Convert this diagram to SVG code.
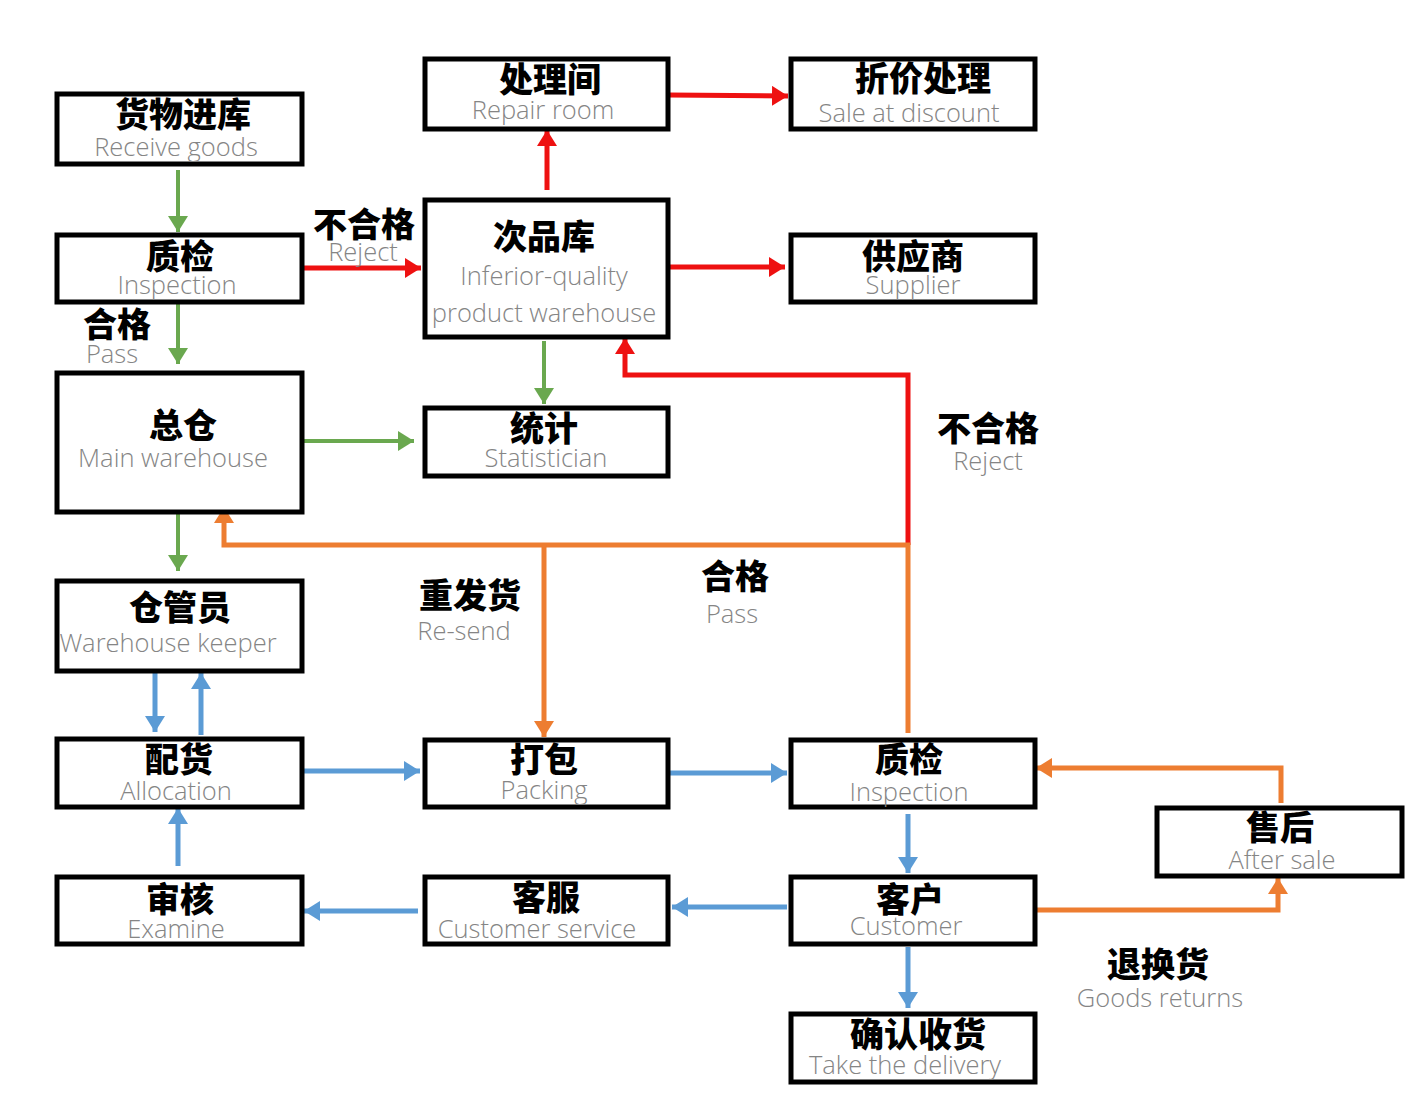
<svg xmlns="http://www.w3.org/2000/svg" width="1428" height="1111" viewBox="0 0 1428 1111">
<style>
.box{fill:#fff;stroke:#000;stroke-width:5}
.cn{font-family:"Noto Sans CJK SC","Noto Sans",sans-serif;font-weight:900;font-size:34px;fill:#000;text-anchor:middle}
.en{font-family:"Open Sans","Liberation Sans",sans-serif;font-weight:300;font-size:25.5px;fill:#858585;text-anchor:middle}
.g{stroke:#6aa84f;stroke-width:4;fill:none;marker-end:url(#ag)}
.r{stroke:#ee1111;stroke-width:5;fill:none;marker-end:url(#ar)}
.o{stroke:#ed7d31;stroke-width:5;fill:none;marker-end:url(#ao)}
.b{stroke:#5b9bd5;stroke-width:5;fill:none;marker-end:url(#ab)}
</style>
<defs>
<marker id="ag" markerUnits="userSpaceOnUse" markerWidth="17" markerHeight="20" refX="16" refY="10" orient="auto"><path d="M0,0 L16,10 L0,20 z" fill="#6aa84f"/></marker>
<marker id="ar" markerUnits="userSpaceOnUse" markerWidth="17" markerHeight="20" refX="16" refY="10" orient="auto"><path d="M0,0 L16,10 L0,20 z" fill="#ee1111"/></marker>
<marker id="ao" markerUnits="userSpaceOnUse" markerWidth="17" markerHeight="20" refX="16" refY="10" orient="auto"><path d="M0,0 L16,10 L0,20 z" fill="#ed7d31"/></marker>
<marker id="ab" markerUnits="userSpaceOnUse" markerWidth="17" markerHeight="20" refX="16" refY="10" orient="auto"><path d="M0,0 L16,10 L0,20 z" fill="#5b9bd5"/></marker>
</defs>
<rect width="1428" height="1111" fill="#fff"/>
<g id="connectors">
<path class="g" d="M178,170 L178,232"/>
<path class="g" d="M178,303 L178,364"/>
<path class="g" d="M298,441 L414,441"/>
<path class="g" d="M178,512 L178,571"/>
<path class="g" d="M544,341 L544,404"/>
<path class="r" d="M303,268 L421,268"/>
<path class="r" d="M547,190 L547,130"/>
<path class="r" d="M669,95 L788,96"/>
<path class="r" d="M669,267 L785,267"/>
<path class="r" d="M908,545 L908,375 L625,375 L625,338"/>
<path class="o" d="M908,733 L908,545 L224,545 L224,507"/>
<path class="o" d="M544,545 L544,737"/>
<path class="o" d="M1031,910 L1278,910 L1278,878"/>
<path class="o" d="M1281,803 L1281,768 L1036,768"/>
<path class="b" d="M155,672 L155,732"/>
<path class="b" d="M201,735 L201,673"/>
<path class="b" d="M178,866 L178,808"/>
<path class="b" d="M303,771 L420,771"/>
<path class="b" d="M669,773 L787,773"/>
<path class="b" d="M908,814 L908,873"/>
<path class="b" d="M787,907 L672,907"/>
<path class="b" d="M418,911 L304,911"/>
<path class="b" d="M908,947 L908,1008"/>
</g>
<g id="labels">
<text class="cn" x="364" y="237">不合格</text>
<text class="en" x="363" y="261">Reject</text>
<text class="cn" x="117" y="337">合格</text>
<text class="en" x="112" y="363">Pass</text>
<text class="cn" x="470" y="608">重发货</text>
<text class="en" x="464" y="640">Re-send</text>
<text class="cn" x="735" y="589">合格</text>
<text class="en" x="732" y="623">Pass</text>
<text class="cn" x="988" y="441">不合格</text>
<text class="en" x="988" y="470">Reject</text>
<text class="cn" x="1158" y="977">退换货</text>
<text class="en" x="1160" y="1007">Goods returns</text>
</g>
<g id="n-receive"><rect class="box" x="57" y="94" width="245" height="70"/><text class="cn" x="183" y="127">货物进库</text><text class="en" x="176" y="156">Receive goods</text></g>
<g id="n-inspect1"><rect class="box" x="57" y="235" width="245" height="67"/><text class="cn" x="180" y="269">质检</text><text class="en" x="177" y="294">Inspection</text></g>
<g id="n-main"><rect class="box" x="57" y="373" width="245" height="139"/><text class="cn" x="183" y="438">总仓</text><text class="en" x="173" y="467">Main warehouse</text></g>
<g id="n-keeper"><rect class="box" x="57" y="581" width="245" height="90"/><text class="cn" x="180" y="620">仓管员</text><text class="en" x="168" y="652">Warehouse keeper</text></g>
<g id="n-alloc"><rect class="box" x="57" y="739" width="245" height="68"/><text class="cn" x="179" y="772">配货</text><text class="en" x="176" y="800">Allocation</text></g>
<g id="n-examine"><rect class="box" x="57" y="877" width="245" height="67"/><text class="cn" x="180" y="912">审核</text><text class="en" x="176" y="938">Examine</text></g>
<g id="n-repair"><rect class="box" x="425" y="59" width="243" height="70"/><text class="cn" x="550" y="92">处理间</text><text class="en" x="543" y="119">Repair room</text></g>
<g id="n-discount"><rect class="box" x="791" y="59" width="244" height="70"/><text class="cn" x="923" y="91">折价处理</text><text class="en" x="909" y="122">Sale at discount</text></g>
<g id="n-inferior"><rect class="box" x="425" y="200" width="243" height="137"/><text class="cn" x="544" y="249">次品库</text><text class="en" x="544" y="285">Inferior-quality</text><text class="en" x="544" y="322">product warehouse</text></g>
<g id="n-supplier"><rect class="box" x="791" y="235" width="244" height="67"/><text class="cn" x="913" y="269">供应商</text><text class="en" x="913" y="294">Supplier</text></g>
<g id="n-stat"><rect class="box" x="425" y="408" width="243" height="68"/><text class="cn" x="544" y="441">统计</text><text class="en" x="546" y="467">Statistician</text></g>
<g id="n-pack"><rect class="box" x="425" y="740" width="243" height="67"/><text class="cn" x="544" y="772">打包</text><text class="en" x="544" y="799">Packing</text></g>
<g id="n-inspect2"><rect class="box" x="791" y="740" width="244" height="67"/><text class="cn" x="909" y="772">质检</text><text class="en" x="909" y="801">Inspection</text></g>
<g id="n-service"><rect class="box" x="425" y="877" width="243" height="67"/><text class="cn" x="546" y="910">客服</text><text class="en" x="537" y="938">Customer service</text></g>
<g id="n-customer"><rect class="box" x="791" y="877" width="244" height="67"/><text class="cn" x="910" y="912">客户</text><text class="en" x="906" y="935">Customer</text></g>
<g id="n-delivery"><rect class="box" x="791" y="1014" width="244" height="68"/><text class="cn" x="918" y="1047">确认收货</text><text class="en" x="905" y="1074">Take the delivery</text></g>
<g id="n-aftersale"><rect class="box" x="1157" y="808" width="245" height="68"/><text class="cn" x="1280" y="840">售后</text><text class="en" x="1282" y="869">After sale</text></g>
</svg>
